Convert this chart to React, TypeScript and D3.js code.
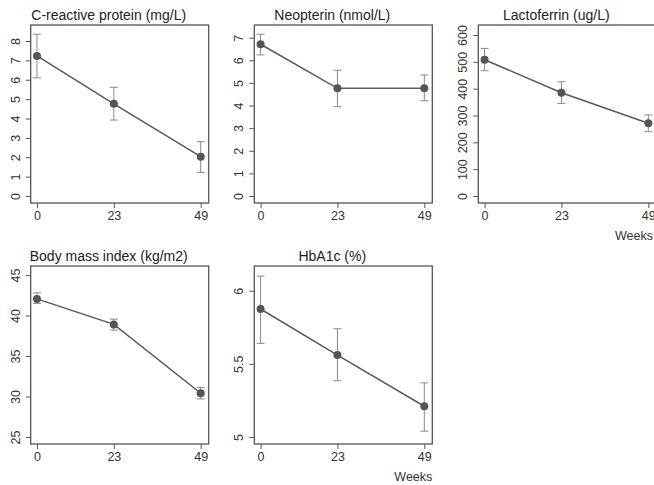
import { useEffect, useRef } from "react";
import * as d3 from "d3";

const weeks = [0, 23, 49];

const titles = [
  "C-reactive protein (mg/L)",
  "Neopterin (nmol/L)",
  "Lactoferrin (ug/L)",
  "Body mass index (kg/m2)",
  "HbA1c (%)",
];

const means = [
  [7.23, 4.76, 2.03],
  [6.71, 4.76, 4.76],
  [508, 385, 271],
  [42.05, 38.9, 30.4],
  [5.875, 5.56, 5.21],
];

const lower = [
  [6.1, 3.92, 1.22],
  [6.24, 3.95, 4.21],
  [467, 345, 240],
  [41.5, 38.2, 29.7],
  [5.64, 5.385, 5.04],
];

const upper = [
  [8.35, 5.61, 2.8],
  [7.15, 5.56, 5.35],
  [550, 426, 302],
  [42.8, 39.55, 31.1],
  [6.1, 5.74, 5.37],
];

const yTicks = [
  [0, 1, 2, 3, 4, 5, 6, 7, 8],
  [0, 1, 2, 3, 4, 5, 6, 7],
  [0, 100, 200, 300, 400, 500, 600],
  [25, 30, 35, 40, 45],
  [5, 5.5, 6],
];

// axis ranges (value at bottom / top of the plot box)
const yRanges = [
  [-0.361, 8.826],
  [-0.31, 7.562],
  [-26.1, 637.3],
  [24.136, 46.11],
  [4.952, 6.169],
];

const xRange = [-1.88, 51.39];

export default function App() {
  const svgRef = useRef<SVGSVGElement | null>(null);

  useEffect(() => {
    if (!svgRef.current) return;
    const root = d3.select(svgRef.current);
    root.selectAll("*").remove();

    const W = 654;
    const H = 485;
    const boxW = 178;
    const boxH = 178;
    const colLeft = [30.7, 254.3, 478.3];
    const rowTop = [25, 266];
    const font = "'Liberation Sans', Arial, sans-serif";

    root.append("rect").attr("width", W).attr("height", H).attr("fill", "#fff");

    titles.forEach((title, i) => {
      const col = i % 3;
      const row = Math.floor(i / 3);
      const left = colLeft[col];
      const top = rowTop[row];

      const g = root.append("g").attr("transform", `translate(${left},${top})`);

      const x = d3.scaleLinear().domain(xRange).range([0, boxW]);
      const y = d3.scaleLinear().domain(yRanges[i]).range([boxH, 0]);

      // title
      g.append("text")
        .attr("x", boxW / 2 - 11)
        .attr("y", -5)
        .attr("text-anchor", "middle")
        .attr("font-family", font)
        .attr("font-size", 14)
        .attr("fill", "#222")
        .text(title);

      // y axis
      const ya = g
        .append("g")
        .call(d3.axisLeft(y).tickValues(yTicks[i]).tickSize(5).tickSizeOuter(0).tickFormat(d3.format("")));
      ya.select(".domain").remove();
      ya.selectAll("line").attr("stroke", "#555");
      ya.selectAll("text")
        .attr("x", 0)
        .attr("y", -11)
        .attr("dy", 0)
        .attr("text-anchor", "middle")
        .attr("transform", "rotate(-90)")
        .attr("font-family", font)
        .attr("font-size", 12.5)
        .attr("fill", "#333");

      // x axis
      const xa = g
        .append("g")
        .attr("transform", `translate(0,${boxH})`)
        .call(d3.axisBottom(x).tickValues(weeks).tickSize(5).tickSizeOuter(0).tickPadding(3).tickFormat(d3.format("")));
      xa.select(".domain").remove();
      xa.selectAll("line").attr("stroke", "#555");
      xa.selectAll("text")
        .attr("font-family", font)
        .attr("font-size", 12.5)
        .attr("fill", "#333");

      // box
      g.append("rect")
        .attr("width", boxW)
        .attr("height", boxH)
        .attr("fill", "none")
        .attr("stroke", "#555")
        .attr("stroke-width", 1.3);

      const pts = weeks.map((w, k) => ({ w, m: means[i][k], lo: lower[i][k], hi: upper[i][k] }));

      // error bars
      const eb = g.append("g").attr("stroke", "#8a8a8a").attr("stroke-width", 1);
      pts.forEach((p) => {
        eb.append("line").attr("x1", x(p.w)).attr("x2", x(p.w)).attr("y1", y(p.lo)).attr("y2", y(p.hi));
        eb.append("line").attr("x1", x(p.w) - 4).attr("x2", x(p.w) + 4).attr("y1", y(p.lo)).attr("y2", y(p.lo));
        eb.append("line").attr("x1", x(p.w) - 4).attr("x2", x(p.w) + 4).attr("y1", y(p.hi)).attr("y2", y(p.hi));
      });

      // line
      const line = d3
        .line<{ w: number; m: number }>()
        .x((d) => x(d.w))
        .y((d) => y(d.m));
      g.append("path")
        .datum(pts)
        .attr("d", line)
        .attr("fill", "none")
        .attr("stroke", "#5a5a5a")
        .attr("stroke-width", 1.5);

      g.selectAll("circle.pt")
        .data(pts)
        .enter()
        .append("circle")
        .attr("class", "pt")
        .attr("cx", (d) => x(d.w))
        .attr("cy", (d) => y(d.m))
        .attr("r", 4)
        .attr("fill", "#555");

      // "Weeks" label under bottom-right panels
      if (i === 2 || i === 4) {
        g.append("text")
          .attr("x", Math.min(boxW, W - 1 - left))
          .attr("y", boxH + 37)
          .attr("text-anchor", "end")
          .attr("font-family", font)
          .attr("font-size", 12.5)
          .attr("fill", "#333")
          .text("Weeks");
      }
    });
  }, []);

  return (
    <svg
      ref={svgRef}
      width={654}
      height={485}
      style={{ position: "absolute", left: 0, top: 0, display: "block" }}
    />
  );
}
